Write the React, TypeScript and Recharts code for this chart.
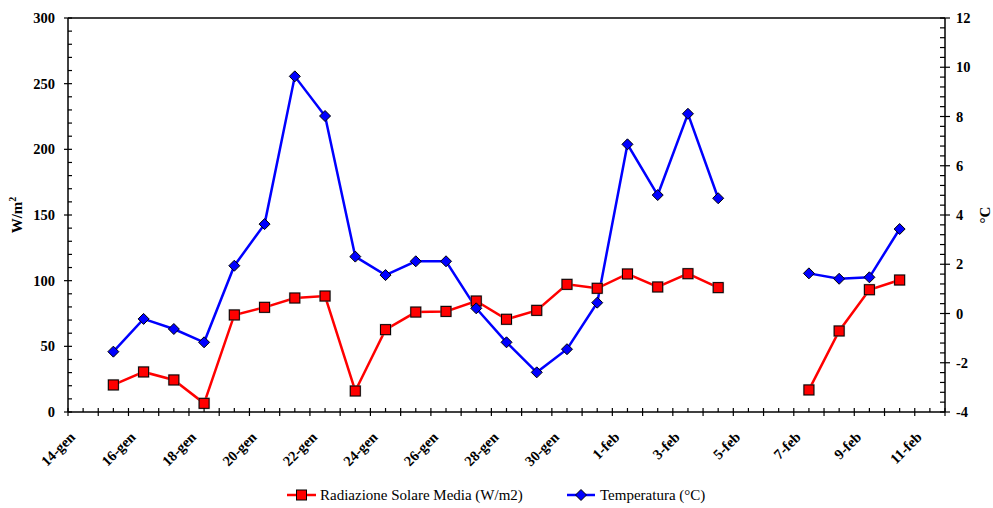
import React from "react";
import { LineChart, Line, XAxis, YAxis, ReferenceLine, Legend } from "recharts";

// giorni di misura (15-gen .. 10-feb), 5-6 feb mancanti
const DAYS = [
  "15-gen", "16-gen", "17-gen", "18-gen", "19-gen", "20-gen", "21-gen", "22-gen", "23-gen",
  "24-gen", "25-gen", "26-gen", "27-gen", "28-gen", "29-gen", "30-gen", "31-gen",
  "1-feb", "2-feb", "3-feb", "4-feb", "5-feb", "6-feb", "7-feb", "8-feb", "9-feb", "10-feb",
];

const RADIATION = [
  20.6, 30.5, 24.4, 6.6, 73.9, 79.7, 86.8, 88.3, 16, 62.7, 76.1, 76.6, 84.5, 70.6, 77.4, 97.2, 94.2,
  105.1, 95.2, 105.3, 94.7, null, null, 16.8, 61.7, 93.1, 100.5,
];

const TEMPERATURE = [
  -1.55, -0.22, -0.63, -1.17, 1.94, 3.63, 9.63, 8.02, 2.31, 1.56, 2.12, 2.12, 0.21, -1.17, -2.39, -1.45, 0.44,
  6.87, 4.81, 8.11, 4.68, null, null, 1.63, 1.41, 1.47, 3.43,
];

const X_LABELS = [
  "14-gen", "16-gen", "18-gen", "20-gen", "22-gen", "24-gen", "26-gen", "28-gen", "30-gen",
  "1-feb", "3-feb", "5-feb", "7-feb", "9-feb", "11-feb",
];

const LEFT_LABELS = [0, 50, 100, 150, 200, 250, 300];
const RIGHT_LABELS = [-4, -2, 0, 2, 4, 6, 8, 10, 12];

// axis starts at 14-gen, one unit per day, readings plotted at midday
const data = DAYS.map((d, i) => ({
  day: d,
  x: i + 1.5,
  rad: RADIATION[i],
  temp: TEMPERATURE[i],
}));

const X_TICKS = Array.from({ length: 59 }, (_, i) => i * 0.5);
const LEFT_TICKS = Array.from({ length: 31 }, (_, i) => i * 10);
const RIGHT_TICKS = Array.from({ length: 41 }, (_, i) => Math.round((-4 + i * 0.4) * 10) / 10);

const SERIF = { fontFamily: '"Liberation Serif", serif' };

function XTick(props: any) {
  const { x, y, payload } = props;
  const v = payload.value;
  const major = Number.isInteger(v);
  const label = major && v % 2 === 0 ? X_LABELS[v / 2] : null;
  const tx = x + 8;
  const ty = y + 26;
  return (
    <g>
      <line x1={x} x2={x} y1={y - 4} y2={major ? y + 4 : y} stroke="#000" strokeWidth={1.2} />
      {label && (
        <text
          x={tx}
          y={ty}
          transform={`rotate(-45 ${tx} ${ty})`}
          textAnchor="end"
          style={SERIF}
          fontWeight="bold"
          fontSize={14.5}
          fill="#000"
        >
          {label}
        </text>
      )}
    </g>
  );
}

function LeftTick(props: any) {
  const { x, y, payload } = props;
  const v = payload.value;
  const major = LEFT_LABELS.includes(v);
  return (
    <g>
      <line x1={major ? x - 4 : x} x2={x + 4} y1={y} y2={y} stroke="#000" strokeWidth={1.2} />
      {major && (
        <text x={x - 13} y={y + 5} textAnchor="end" style={SERIF} fontWeight="bold" fontSize={14.5} fill="#000">
          {v}
        </text>
      )}
    </g>
  );
}

function RightTick(props: any) {
  const { x, y, payload } = props;
  const v = payload.value;
  const major = RIGHT_LABELS.some((r) => Math.abs(r - v) < 1e-6);
  return (
    <g>
      <line x1={x - 5} x2={major ? x + 5 : x} y1={y} y2={y} stroke="#000" strokeWidth={1.2} />
      {major && (
        <text x={x + 11} y={y + 5} textAnchor="start" style={SERIF} fontWeight="bold" fontSize={14.5} fill="#000">
          {Math.round(v)}
        </text>
      )}
    </g>
  );
}

function SquareDot(props: any) {
  const { cx, cy, index } = props;
  if (cx == null || cy == null) return <g key={`s-${index}`} />;
  return (
    <g key={`s-${index}`}>
      <rect x={cx - 6} y={cy - 6} width={12} height={12} fill="#9a9a9a" opacity={0.5} />
      <rect x={cx - 5} y={cy - 5} width={10} height={10} fill="#ff0000" stroke="#000" strokeWidth={1} />
    </g>
  );
}

function DiamondDot(props: any) {
  const { cx, cy, index } = props;
  if (cx == null || cy == null) return <g key={`d-${index}`} />;
  const r = 5.5;
  return (
    <path
      key={`d-${index}`}
      d={`M${cx} ${cy - r}L${cx + r} ${cy}L${cx} ${cy + r}L${cx - r} ${cy}Z`}
      fill="#0000ff"
      stroke="#000"
      strokeWidth={1}
    />
  );
}

function renderLegend() {
  return (
    <svg width={985} height={30} style={{ display: "block" }}>
      <line x1={279} x2={308} y1={17} y2={17} stroke="#ff0000" strokeWidth={2.5} />
      <rect x={288.5} y={12} width={10} height={10} fill="#ff0000" stroke="#000" strokeWidth={1} />
      <text x={312} y={22} style={SERIF} fontSize={15} fill="#000">
        Radiazione Solare Media (W/m2)
      </text>
      <line x1={559} x2={587} y1={17} y2={17} stroke="#0000ff" strokeWidth={2.5} />
      <path d="M573 11.5L578.5 17L573 22.5L567.5 17Z" fill="#0000ff" stroke="#000" strokeWidth={1} />
      <text x={592} y={22} style={SERIF} fontSize={15} fill="#000">
        Temperatura (°C)
      </text>
    </svg>
  );
}

export default function App() {
  return (
    <div
      style={{
        position: "absolute",
        left: 0,
        top: 0,
        width: 993,
        height: 508,
        background: "#fff",
        fontFamily: '"Liberation Serif", serif',
      }}
    >
      <LineChart width={993} height={508} data={data} margin={{ top: 18, right: 0, bottom: 0, left: 8 }}>
        <XAxis
          type="number"
          dataKey="x"
          domain={[0, 29]}
          ticks={X_TICKS}
          interval={0}
          tick={XTick}
          tickLine={false}
          tickSize={0}
          tickMargin={0}
          height={66}
          axisLine={{ stroke: "#000", strokeWidth: 1.5 }}
        />
        <YAxis
          yAxisId="left"
          domain={[0, 300]}
          ticks={LEFT_TICKS}
          interval={0}
          tick={LeftTick}
          tickLine={false}
          tickSize={0}
          tickMargin={0}
          width={60}
          axisLine={{ stroke: "#000", strokeWidth: 1.5 }}
          label={{
            content: () => (
              <text
                x={17}
                y={215}
                transform="rotate(-90 17 215)"
                dy={5}
                textAnchor="middle"
                style={SERIF}
                fontWeight="bold"
                fontSize={15}
                fill="#000"
              >
                W/m<tspan dy={-6} fontSize={10}>2</tspan>
              </text>
            ),
          }}
        />
        <YAxis
          yAxisId="right"
          orientation="right"
          domain={[-4, 12]}
          ticks={RIGHT_TICKS}
          interval={0}
          tick={RightTick}
          tickLine={false}
          tickSize={0}
          tickMargin={0}
          width={48}
          axisLine={{ stroke: "#000", strokeWidth: 1.5 }}
          label={{
            content: () => (
              <text
                x={985}
                y={215}
                transform="rotate(-90 985 215)"
                dy={5}
                textAnchor="middle"
                style={SERIF}
                fontWeight="bold"
                fontSize={15}
                fill="#000"
              >
                °C
              </text>
            ),
          }}
        />
        <ReferenceLine yAxisId="left" y={300} stroke="#000" strokeWidth={1.5} />
        <Line
          yAxisId="left"
          type="linear"
          dataKey="rad"
          name="Radiazione Solare Media (W/m2)"
          stroke="#ff0000"
          strokeWidth={2.5}
          dot={SquareDot}
          activeDot={false}
          connectNulls={false}
          isAnimationActive={false}
        />
        <Line
          yAxisId="right"
          type="linear"
          dataKey="temp"
          name="Temperatura (°C)"
          stroke="#0000ff"
          strokeWidth={2.5}
          dot={DiamondDot}
          activeDot={false}
          connectNulls={false}
          isAnimationActive={false}
        />
        <Legend verticalAlign="bottom" height={30} content={renderLegend} />
      </LineChart>
    </div>
  );
}
